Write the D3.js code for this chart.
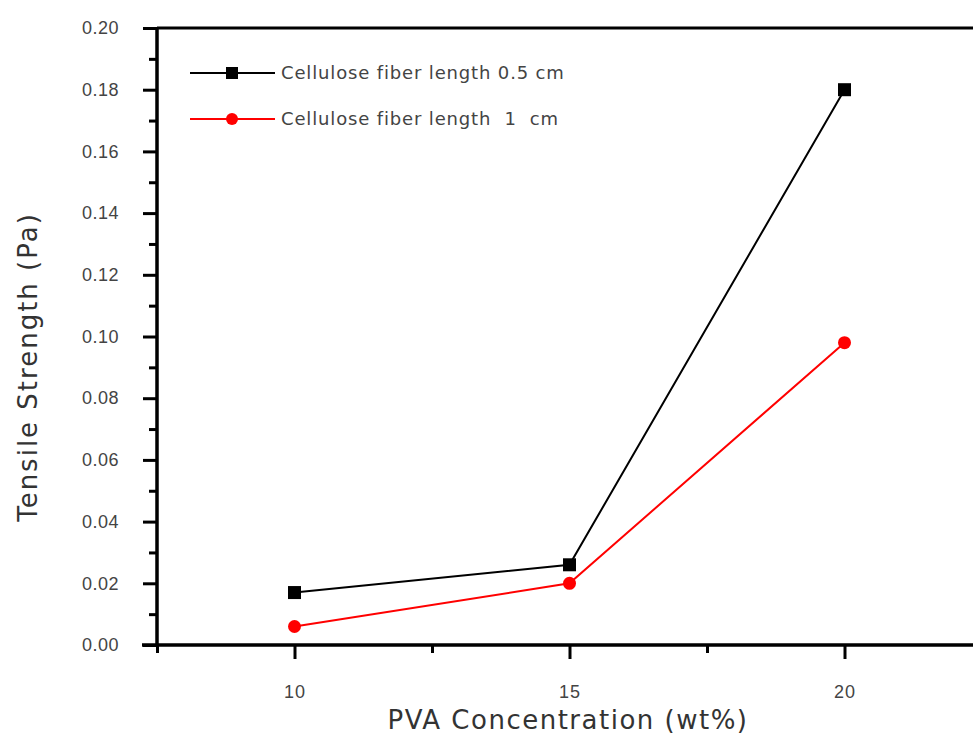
<!DOCTYPE html>
<html>
<head>
<meta charset="utf-8">
<script src="https://cdn.jsdelivr.net/npm/d3@7"></script>
<style>
  body { margin: 0; background: #fff; }
  svg { display: block; font-family: "DejaVu Sans", sans-serif; }
</style>
</head>
<body>
<div id="chart"></div>
<script>
// data
const pva = [10, 15, 20];
const len05 = [0.017, 0.026, 0.180];
const len1 = [0.006, 0.020, 0.098];
const seriesNames = ["Cellulose fiber length 0.5 cm", "Cellulose fiber length  1  cm"];
const yTicks = [0, 0.02, 0.04, 0.06, 0.08, 0.10, 0.12, 0.14, 0.16, 0.18, 0.20];
const yMinor = [0.01, 0.03, 0.05, 0.07, 0.09, 0.11, 0.13, 0.15, 0.17, 0.19];
const xTicks = [10, 15, 20];
const xMinor = [7.5, 12.5, 17.5, 22.5];

const W = 973, H = 736;
const svg = d3.select("#chart").append("svg")
    .attr("width", W).attr("height", H);

const x = d3.scaleLinear().domain([7.5, 22.5]).range([157, 982]);
const y = d3.scaleLinear().domain([0, 0.2]).range([645, 28]);

// top spine
svg.append("line")
    .attr("x1", x(7.5)).attr("x2", x(22.5))
    .attr("y1", y(0.2)).attr("y2", y(0.2))
    .attr("stroke", "#000").attr("stroke-width", 3);

// y axis
const yAx = svg.append("g")
    .attr("transform", `translate(${x(7.5)},0)`)
    .call(d3.axisLeft(y).tickValues(yTicks).tickFormat(d3.format(".2f")).tickSize(14).tickPadding(24));
yAx.append("g")
    .call(d3.axisLeft(y).tickValues(yMinor).tickFormat("").tickSize(8));
yAx.selectAll("path, line").attr("stroke", "#000").attr("stroke-width", 3);
yAx.selectAll("path").attr("d", `M0,${y(0)}V${y(0.2)}`);
yAx.selectAll("text").attr("fill", "#444").style("font-size", "18px")
    .style("letter-spacing", "0.5px");

// x axis
const xAx = svg.append("g")
    .attr("transform", `translate(0,${y(0)})`)
    .call(d3.axisBottom(x).tickValues(xTicks).tickSize(14).tickPadding(26));
xAx.append("g")
    .call(d3.axisBottom(x).tickValues(xMinor).tickFormat("").tickSize(8));
xAx.selectAll("path, line").attr("stroke", "#000").attr("stroke-width", 3);
xAx.selectAll("path").attr("d", `M${x(7.5) - 15},0H${x(22.5)}`);
xAx.selectAll("text").attr("fill", "#444").style("font-size", "18px")
    .style("letter-spacing", "1px");

// axis titles
svg.append("text")
    .attr("x", 568).attr("y", 729)
    .attr("text-anchor", "middle")
    .attr("fill", "#333")
    .style("font-size", "26px")
    .style("letter-spacing", "1.5px")
    .text("PVA Concentration (wt%)");
svg.append("text")
    .attr("transform", "translate(37,367) rotate(-90)")
    .attr("text-anchor", "middle")
    .attr("fill", "#333")
    .style("font-size", "26px")
    .style("letter-spacing", "2px")
    .text("Tensile Strength (Pa)");

// lines
const line = d3.line().x((d, i) => x(pva[i])).y(d => y(d));
svg.append("path").datum(len05)
    .attr("d", line).attr("fill", "none")
    .attr("stroke", "#000").attr("stroke-width", 2);
svg.append("path").datum(len1)
    .attr("d", line).attr("fill", "none")
    .attr("stroke", "#f00").attr("stroke-width", 2);

svg.selectAll(".sq").data(len05).join("rect")
    .attr("x", (d, i) => x(pva[i]) - 6.5)
    .attr("y", d => y(d) - 6.5)
    .attr("width", 13).attr("height", 13)
    .attr("fill", "#000");
svg.selectAll(".dot").data(len1).join("circle")
    .attr("cx", (d, i) => x(pva[i]))
    .attr("cy", d => y(d))
    .attr("r", 6.5)
    .attr("fill", "#f00");

// legend
const leg = svg.append("g");
const legY = [73, 119];
const legColor = ["#000", "#f00"];
seriesNames.forEach((name, i) => {
    leg.append("line")
        .attr("x1", 190).attr("x2", 275)
        .attr("y1", legY[i]).attr("y2", legY[i])
        .attr("stroke", legColor[i]).attr("stroke-width", 2);
    if (i === 0) {
        leg.append("rect").attr("x", 226).attr("y", legY[i] - 6)
            .attr("width", 12).attr("height", 12).attr("fill", "#000");
    } else {
        leg.append("circle").attr("cx", 232).attr("cy", legY[i])
            .attr("r", 6).attr("fill", "#f00");
    }
    leg.append("text")
        .attr("x", 281).attr("y", legY[i])
        .attr("dy", "0.35em")
        .attr("fill", "#444")
        .style("font-size", "18px")
        .style("letter-spacing", "0.85px")
        .style("white-space", "pre")
        .attr("xml:space", "preserve")
        .text(name);
});
</script>
</body>
</html>
